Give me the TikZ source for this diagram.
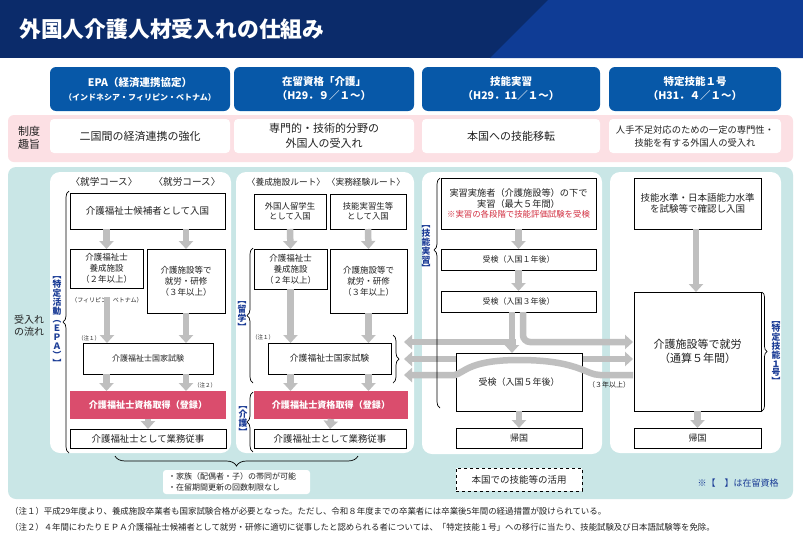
\documentclass[tikz,border=0pt]{standalone}
\usepackage{fontspec}
\setmainfont{Noto Sans CJK JP}
\usetikzlibrary{arrows.meta,decorations.pathreplacing}
\definecolor{navy}{HTML}{0B2B6A}
\definecolor{navytwo}{HTML}{0F3C95}
\definecolor{hblue}{HTML}{0758A8}
\definecolor{pinkband}{HTML}{FCE0E4}
\definecolor{tealbg}{HTML}{C9E6E6}
\definecolor{garr}{HTML}{BFBFBF}
\definecolor{pinkbox}{HTML}{DA4D6D}
\definecolor{vblue}{HTML}{1B3C96}
\definecolor{notered}{HTML}{D22E40}
\definecolor{txt}{HTML}{222222}
\newcommand\fsz[2]{\fontsize{#1}{#2}\selectfont}
\newcommand\boxat[7]{\node[#2, minimum width={(#5)-(#3)}, minimum height={(#6)-(#4)}] (#1) at ({((#3)+(#5))/2},{((#4)+(#6))/2}) {#7};}
\pgfdeclarelayer{bg}\pgfdeclarelayer{mid}\pgfsetlayers{bg,mid,main}
\begin{document}
\begin{tikzpicture}[x=1pt,y=-1pt]
\tikzset{
 bx/.style={draw=black, line width=0.7pt, fill=white, inner sep=0pt, outer sep=0pt, align=center, text=txt},
 hbox/.style={fill=hblue, rounded corners=6pt, text=white, align=center, inner sep=0pt, outer sep=0pt, font=\fsz{10.5}{14}\bfseries},
 wbox/.style={fill=white, rounded corners=4pt, inner sep=0pt, outer sep=0pt, align=center, text=txt},
 pbox/.style={fill=pinkbox, inner sep=0pt, outer sep=0pt, text=white, align=center, font=\fsz{9.1}{11}\bfseries},
 vlab/.style={text=vblue, inner sep=0pt, align=center, font=\fsz{8.8}{8.8}\bfseries},
 garrow/.style={draw=garr, line width=6.5pt, -{Triangle[width=14pt,length=8pt]}},
 garrowtwo/.style={draw=garr, line width=6.5pt, {Triangle[width=14pt,length=8pt]}-{Triangle[width=14pt,length=8pt]}},
 brc/.style={decorate, decoration={brace, amplitude=#1}, line width=0.7pt, draw=black},
 tiny/.style={font=\fsz{5.5}{7}, text=txt, inner sep=0pt},
 plain/.style={text=txt, inner sep=0pt, align=center},
}
\useasboundingbox (0,0) rectangle (803,549);
\begin{pgfonlayer}{bg}
\fill[white] (0,0) rectangle (803,549);
\fill[navy] (0,0) rectangle (803,58);
\fill[navytwo] (490,58) -- (548,0) -- (803,0) -- (803,58) -- cycle;
\fill[pinkband, rounded corners=6pt] (8,115) rectangle (793,162);
\fill[tealbg, rounded corners=8pt] (8,167) rectangle (793,499);
\fill[white, rounded corners=10pt] (50,172) rectangle (231,453);
\fill[white, rounded corners=10pt] (236,172) rectangle (414,453);
\fill[white, rounded corners=10pt] (422,172) rectangle (602,454);
\fill[white, rounded corners=10pt] (610,172) rectangle (781,453);
\end{pgfonlayer}

% title
\node[anchor=west, text=white, inner sep=0pt, font=\fsz{21.8}{24}\bfseries] (title) at (19,29) {外国人介護人材受入れの仕組み};

% headers
\boxat{h1}{hbox}{50}{67}{230}{111}{EPA（経済連携協定）\\{\fsz{8}{10}（インドネシア・フィリピン・ベトナム）}}
\boxat{h2}{hbox}{234}{67}{414}{111}{在留資格「介護」\\（H29．９／１～）}
\boxat{h3}{hbox}{422}{67}{600}{111}{技能実習\\（H29．11／１～）}
\boxat{h4}{hbox}{609}{67}{781}{111}{特定技能１号\\（H31．４／１～）}

% purpose row
\node[plain, font=\fsz{11}{13.5}] (lab1) at (29,138) {制度\\趣旨};
\boxat{g1}{wbox, font=\fsz{11}{14.5}}{50}{119}{230}{153}{二国間の経済連携の強化}
\boxat{g2}{wbox, font=\fsz{11}{14.5}}{234}{119}{414}{153}{専門的・技術的分野の\\外国人の受入れ}
\boxat{g3}{wbox, font=\fsz{11}{14.5}}{422}{119}{600}{153}{本国への技能移転}
\boxat{g4}{wbox, font=\fsz{9.3}{13}}{609}{119}{781}{153}{人手不足対応のための一定の専門性・\\技能を有する外国人の受入れ}

\node[plain, font=\fsz{10}{12}] (lab2) at (29,326) {受入れ\\の流れ};

% ---- panel 1 (EPA)
\node[plain, font=\fsz{9.6}{12}] (k1) at (104,182) {〈就学コース〉};
\node[plain, font=\fsz{9.6}{12}] (k2) at (187,182) {〈就労コース〉};
\boxat{a1}{bx, font=\fsz{9.5}{12}}{70}{193}{225}{229}{介護福祉士候補者として入国}
\boxat{a2}{bx, font=\fsz{8.5}{11}}{70}{249}{143}{288}{介護福祉士\\養成施設\\（２年以上）}
\boxat{a3}{bx, font=\fsz{8.5}{11}}{147}{249}{225}{313}{介護施設等で\\就労・研修\\（３年以上）}
\node[plain, font=\fsz{6}{7}] (pn) at (107,300) {（フィリピン、ベトナム）};
\boxat{a4}{bx, font=\fsz{8}{10}}{83}{343}{213}{374}{介護福祉士国家試験}
\node[tiny] (n1a) at (89,338) {（注１）};
\node[tiny] (n2a) at (205,385) {（注２）};
\boxat{a5}{pbox}{70}{391}{226}{419}{介護福祉士資格取得（登録）}
\boxat{a6}{bx, font=\fsz{9.4}{11}}{70}{429}{226}{448}{介護福祉士として業務従事}

% ---- panel 2 (介護)
\node[plain, font=\fsz{8.7}{11}] (k3) at (286,182) {〈養成施設ルート〉};
\node[plain, font=\fsz{8.7}{11}] (k4) at (366,182) {〈実務経験ルート〉};
\boxat{b1}{bx, font=\fsz{8.4}{10.5}}{254}{194}{326}{229}{外国人留学生\\として入国}
\boxat{b2}{bx, font=\fsz{8.4}{10.5}}{330}{194}{406}{229}{技能実習生等\\として入国}
\boxat{b3}{bx, font=\fsz{8.5}{11}}{254}{249}{327}{289}{介護福祉士\\養成施設\\（２年以上）}
\boxat{b4}{bx, font=\fsz{8.5}{11}}{330}{249}{407}{313}{介護施設等で\\就労・研修\\（３年以上）}
\node[tiny] (n1b) at (263,337) {（注１）};
\boxat{b5}{bx, font=\fsz{8.8}{11}}{268}{343}{391}{374}{介護福祉士国家試験}
\boxat{b6}{pbox}{254}{391}{408}{419}{介護福祉士資格取得（登録）}
\boxat{b7}{bx, font=\fsz{9.4}{11}}{254}{429}{406}{448}{介護福祉士として業務従事}

% ---- panel 3 (技能実習)
\boxat{c1}{bx, font=\fsz{9.2}{10.8}}{441}{178}{596}{229}{実習実施者（介護施設等）の下で\\実習（最大５年間）\\{\color{notered}\fsz{8.4}{10}※実習の各段階で技能評価試験を受検}}
\boxat{c2}{bx, font=\fsz{8}{10}}{441}{249}{596}{270}{受検（入国１年後）}
\boxat{c3}{bx, font=\fsz{8}{10}}{441}{291}{596}{312}{受検（入国３年後）}

% ---- panel 4 (特定技能)
\boxat{d1}{bx, font=\fsz{9.5}{10.8}}{634}{178}{761}{229}{技能水準・日本語能力水準\\を試験等で確認し入国}
\boxat{d2}{bx, font=\fsz{11}{14}}{634}{292}{761}{411}{介護施設等で就労\\（通算５年間）}
\boxat{d3}{bx, font=\fsz{9}{11}}{634}{428}{761}{448}{帰国}

% connector end points between columns
\coordinate (la) at (404,342);
\coordinate (lb) at (404,359);
\coordinate (lc) at (404,375);
\coordinate (ra) at (633,342);
\coordinate (rb) at (633,359);
\coordinate (rc) at (633,375);
\coordinate (ja) at (515.5,342);

% band behind the 5-year box
\begin{pgfonlayer}{mid}
\draw[garrowtwo] (lb) -- (rb);
\end{pgfonlayer}

\boxat{c4}{bx, font=\fsz{9}{11}}{456}{353}{582}{411}{受検（入国５年後）}
\boxat{c5}{bx, font=\fsz{9}{11}}{456}{428}{582}{448}{帰国}
\boxat{c6}{bx, dashed, font=\fsz{9.5}{11}}{456}{468}{582}{491}{本国での技能等の活用}

% arrows panel 1
\draw[garrow] (a1.south -| a2.north) -- (a2.north);
\draw[garrow] (a1.south -| a3.north) -- (a3.north);
\draw[garrow] ([yshift=6pt]pn.south) -- (pn.south |- a4.north);
\draw[garrow] (a3.south) -- (a3.south |- a4.north);
\draw[garrow] (a4.south -| a2.south) -- (a2.south |- a5.north);
\draw[garrow] (a4.south -| a3.south) -- (a3.south |- a5.north);
\draw[garrow] (a5.south) -- (a6.north);

% arrows panel 2
\draw[garrow] (b1.south) -- (b3.north);
\draw[garrow] (b2.south) -- (b4.north);
\draw[garrow] (b3.south) -- (b3.south |- b5.north);
\draw[garrow] (b4.south) -- (b4.south |- b5.north);
\draw[garrow] (b5.south -| b3.south) -- (b3.south |- b6.north);
\draw[garrow] (b5.south -| b4.south) -- (b4.south |- b6.north);
\draw[garrow] (b6.south) -- (b7.north);

% arrows panel 3
\draw[garrow] (c1.south) -- (c2.north);
\draw[garrow] (c2.south) -- (c3.north);
\draw[garrow] ([xshift=-6.5pt]c3.south) -- ([xshift=-7pt]c4.north);
\draw[garrow] (ja) -- (la);
\draw[garrow, rounded corners=7pt] ([xshift=4.5pt]c3.south) |- (ra);
\draw[garrow] (rc) -- (600,375) .. controls (586,375) and (578,360) .. (519,360) .. controls (470,360) and (465,372) .. (455,375) -- (lc);
\draw[garrow] (c4.south) -- (c5.north);
\node[plain, font=\fsz{7}{9}] (y3) at (609,385) {（３年以上）};

% arrows panel 4
\draw[garrow] ([xshift=-1.5pt]d1.south) -- ([xshift=-1.5pt]d2.north);
\draw[garrow] (d2.south) -- (d3.north);

% braces and status labels
\draw[brc=6pt] (69,453) -- (69,191);
\node[vlab] (s1) at (57,322) {︻\\特\\定\\活\\動\\︵\\Ｅ\\Ｐ\\Ａ\\︶\\︼};
\draw[brc=6pt] (253,383) -- (253,248);
\node[vlab] (s2) at (242,316) {︻\\留\\学\\︼};
\draw[brc=6pt] (253,452) -- (253,392);
\node[vlab] (s3) at (243,421) {︻\\介\\護\\︼};
\draw[decorate, decoration={brace, amplitude=6pt, aspect=0.687}, line width=0.7pt] (440,408) -- (440,178);
\node[vlab] (s4) at (426,249) {︻\\技\\能\\実\\習\\︼};
\draw[brc=5pt] (762,292) -- (762,411);
\node[vlab] (s5) at (776,353) {︻\\特\\定\\技\\能\\１\\号\\︼};
\draw[brc=6pt] (393,335) -- (393,383);
\draw[brc=10pt] (358,456) -- (115,456);

\node[wbox, rounded corners=3pt, text width=137pt, inner xsep=5pt, minimum height=24pt, align=left, font=\fsz{8}{11}, anchor=north west] (fam) at (163,470) {・家族（配偶者・子）の帯同が可能\\・在留期間更新の回数制限なし};

\node[plain, text=vblue, font=\fsz{9}{11}] (key) at (738,483) {※【　】は在留資格};

% footnotes
\node[anchor=west, inner sep=0pt, text=txt, font=\fsz{8.45}{10}] (fn1) at (10,511) {（注１）平成29年度より、養成施設卒業者も国家試験合格が必要となった。ただし、令和８年度までの卒業者には卒業後5年間の経過措置が設けられている。};
\node[anchor=west, inner sep=0pt, text=txt, font=\fsz{8.4}{10}] (fn2) at (10,527) {（注２）４年間にわたりＥＰＡ介護福祉士候補者として就労・研修に適切に従事したと認められる者については、「特定技能１号」への移行に当たり、技能試験及び日本語試験等を免除。};
\end{tikzpicture}
\end{document}
